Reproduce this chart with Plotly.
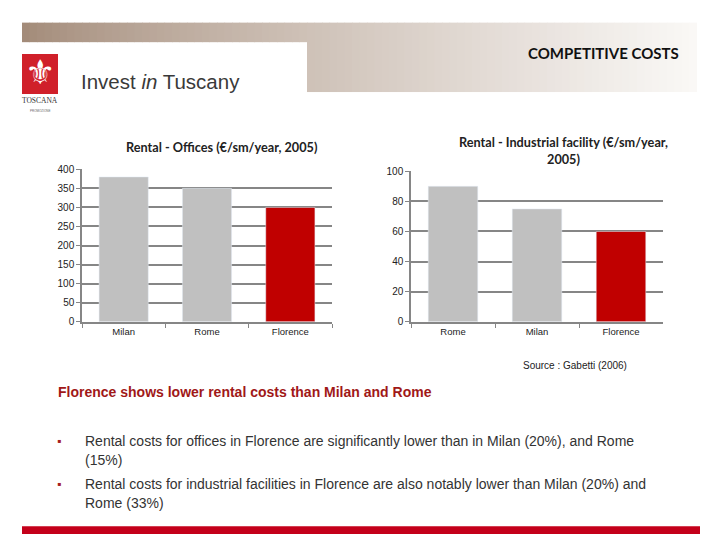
import plotly.graph_objects as go

# data
office_cities = ["Milan", "Rome", "Florence"]
office_rent = [380, 350, 300]
industrial_cities = ["Rome", "Milan", "Florence"]
industrial_rent = [90, 75, 60]
highlight = "Florence"

W, H = 720, 540
GREY_BAR = "#c0c0c0"
RED_BAR = "#c00000"
GRID = "#868686"


def px(x):
    return x / W


def py(y):
    return 1 - y / H


def bar_colors(cities):
    return [RED_BAR if c == highlight else GREY_BAR for c in cities]


fig = go.Figure()

fig.add_trace(go.Bar(x=office_cities, y=office_rent, marker_color=bar_colors(office_cities),
                     width=0.59, xaxis="x", yaxis="y", hoverinfo="x+y"))
fig.add_trace(go.Bar(x=industrial_cities, y=industrial_rent, marker_color=bar_colors(industrial_cities),
                     width=0.59, xaxis="x2", yaxis="y2", hoverinfo="x+y"))

axis_x = dict(showgrid=False, showline=True, linecolor=GRID, linewidth=1.5,
              ticks="outside", tickson="boundaries", ticklen=4, tickcolor=GRID,
              tickfont=dict(family="Liberation Sans", size=9.5, color="#222"),
              fixedrange=True)
axis_y = dict(showgrid=True, gridcolor=GRID, gridwidth=1.6, showline=True, linecolor=GRID,
              linewidth=1.5, ticks="outside", ticklen=4, tickcolor=GRID, zeroline=False,
              tickfont=dict(family="Liberation Sans", size=10, color="#222"),
              fixedrange=True)

fig.update_layout(
    width=W, height=H,
    margin=dict(l=0, r=0, t=0, b=0),
    paper_bgcolor="white", plot_bgcolor="white",
    showlegend=False,
    xaxis=dict(axis_x, domain=[px(82), px(332)], anchor="y"),
    yaxis=dict(axis_y, domain=[py(323), py(167)], range=[0, 400], dtick=50, anchor="x"),
    xaxis2=dict(axis_x, domain=[px(411), px(663)], anchor="y2"),
    yaxis2=dict(axis_y, domain=[py(323), py(169)], range=[0, 100], dtick=20, anchor="x2"),
)

shapes = []
# header band, L shaped, with a brown-to-white gradient
x0, x1, xstep = 22, 697, 305
n = 90
c0 = (163, 139, 121)
c1 = (250, 248, 246)
for i in range(n):
    a = x0 + (x1 - x0) * i / n
    b = x0 + (x1 - x0) * (i + 1) / n + 0.6
    t = (i / (n - 1)) ** 0.8
    col = "rgb(%d,%d,%d)" % tuple(int(c0[k] + (c1[k] - c0[k]) * t) for k in range(3))
    mid = (a + b) / 2
    bottom = 37 if mid < xstep else 88
    shapes.append(dict(type="rect", xref="paper", yref="paper",
                       x0=px(a), x1=px(min(b, x1)), y0=py(bottom), y1=py(17),
                       fillcolor=col, line_width=0, layer="below"))
# logo square
shapes.append(dict(type="rect", xref="paper", yref="paper", x0=px(22), x1=px(58),
                   y0=py(90), y1=py(49), fillcolor="#d0202a", line_width=0))
# bottom red band
shapes.append(dict(type="rect", xref="paper", yref="paper", x0=px(22), x1=px(700),
                   y0=py(540), y1=py(532), fillcolor="#c4001a", line_width=0))
fig.update_layout(shapes=shapes)

ann = []


def note(x, y, text, size, color="#222", family="Liberation Sans", xanchor="left", align="left"):
    ann.append(dict(x=px(x), y=py(y), xref="paper", yref="paper", text=text, showarrow=False,
                    xanchor=xanchor, yanchor="middle", align=align,
                    font=dict(family=family, size=size, color=color)))


note(681, 48, "<b>COMPETITIVE COSTS</b>", 15, "#111", "Lato", xanchor="right")
note(40, 68, "⚜", 34, "white", "DejaVu Sans", xanchor="center")
note(40, 97, "TOSCANA", 7.5, "#333", "Liberation Serif", xanchor="center")
note(40, 107, "PROMOZIONE", 3, "#666", "Liberation Sans", xanchor="center")
note(79, 77, "Invest <i>in</i> Tuscany", 20.5, "#3a3a3a", "Liberation Sans")

note(222, 144, "<b>Rental - Offices (€/sm/year, 2005)</b>", 12.7, "#222", "Lato", xanchor="center")
note(563, 148, "<b>Rental - Industrial facility (€/sm/year,<br>2005)</b>", 12.7, "#222", "Lato",
     xanchor="center", align="center")

note(629, 368, "Source : Gabetti (2006)", 10, "#222", xanchor="right")
note(56, 395, "<b>Florence shows lower rental costs than Milan and Rome</b>", 14, "#a01818")

body = "#333333"
note(55, 445, "▪", 12, "#a52020")
note(83, 445, "Rental costs for offices in Florence are significantly lower than in Milan (20%), and Rome", 14, body)
note(83, 464, "(15%)", 14, body)
note(55, 489, "▪", 12, "#a52020")
note(83, 489, "Rental costs for industrial facilities in Florence are also notably lower than Milan (20%) and", 14, body)
note(83, 508, "Rome (33%)", 14, body)

fig.update_layout(annotations=ann)

fig.write_html("out.html", config={"displayModeBar": False},
               post_script="document.body.style.margin='0';document.body.style.overflow='hidden';")
